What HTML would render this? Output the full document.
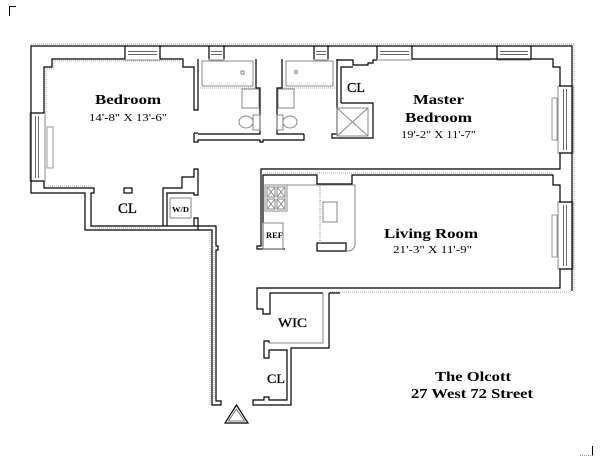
<!DOCTYPE html>
<html><head><meta charset="utf-8"><style>
html,body{margin:0;padding:0;background:#fff;}
svg{display:block;}
text{font-family:"Liberation Serif","DejaVu Serif",serif;fill:#000;}
</style></head><body>
<svg width="600" height="463" viewBox="0 0 600 463" xmlns="http://www.w3.org/2000/svg">
<rect width="600" height="463" fill="#fff"/>

<!-- corner marks -->
<path d="M9.5,16 V6.5 H16" fill="none" stroke="#000" stroke-width="1"/>
<path d="M592.5,446 V455.5" fill="none" stroke="#000" stroke-width="1"/>
<path d="M580,455.5 H592" fill="none" stroke="#999" stroke-width="1" stroke-dasharray="1,1"/>

<!-- gray dotted offset lines -->
<g fill="none" stroke="#aaa" stroke-width="1" stroke-dasharray="1,1">
  <path d="M31,44 H574 V293"/>
  <path d="M46,112 V69 H54 V61 H180"/>
  <path d="M198,88 H256"/>
  <path d="M282,88 H337"/>
  <path d="M265,173 H553"/>
  <path d="M46,186 H92"/>
  <path d="M93,228 H161"/>
  <path d="M210,232 V405"/>
  <path d="M330,292 H572"/>
  <path d="M214,252 V398"/>
</g>

<!-- windows (gray frames) -->
<g fill="#fff" stroke="#888" stroke-width="1">
  <rect x="125" y="46" width="35" height="14"/>
  <rect x="209" y="46" width="15" height="14"/>
  <rect x="314" y="46" width="14" height="14"/>
  <rect x="377" y="46" width="35" height="14"/>
  <rect x="497" y="46" width="34" height="14"/>
  <rect x="558" y="86" width="15" height="67"/>
  <rect x="558" y="202" width="15" height="67"/>
  <rect x="30" y="113" width="15" height="68"/>
</g>
<g fill="none" stroke="#666" stroke-width="1">
  <path d="M128,51.5 H157 M128,54.5 H157"/>
  <path d="M211,51.5 H222 M211,54.5 H222"/>
  <path d="M316,51.5 H326 M316,54.5 H326"/>
  <path d="M380,51.5 H409 M380,54.5 H409"/>
  <path d="M500,51.5 H528 M500,54.5 H528"/>
  <path d="M563.5,89 V150 M566.5,89 V150"/>
  <path d="M563.5,205 V266 M566.5,205 V266"/>
  <path d="M35.5,116 V178 M38.5,116 V178"/>
</g>

<!-- radiators -->
<g fill="none" stroke="#999" stroke-width="1">
  <rect x="47" y="127" width="6" height="41"/>
  <rect x="552" y="98" width="5" height="42"/>
  <rect x="552" y="215" width="5" height="42"/>
</g>

<!-- walls -->
<g fill="none" stroke="#000" stroke-width="1.2" stroke-linejoin="miter">
  <path d="M198,226 H216 V246 H218 V250 H216 V401 H221 V405 H212 V230 H85 V193 H31 V46 H572 V291"/>
  <path d="M44,113 V67 H52 V59 H125"/>
  <path d="M160,59 H183 V67 H194 V110 H198 V59"/>
  <path d="M44,181 V188 H94 V193 H91 V226 H198"/>
  <path d="M163,226 V188 H182 V177 H194 V169 H198 V195 H194 V193 H167 V226"/>
  <path d="M194,226 V218 H198 V230"/>
  <rect x="124" y="188" width="8" height="5"/>
  <path d="M125,46 V59 M160,46 V59 M209,46 V59 M224,46 V59 M314,46 V59 M328,46 V59 M377,46 V59 M412,46 V59 M497,46 V59 M531,46 V59"/>
  <path d="M559,86 H572 M559,153 H572 M559,202 H572 M559,269 H572"/>
  <path d="M31,113 H44 M31,181 H44"/>
  <path d="M198,134 H260 V88 H256 V59"/>
  <path d="M304,134 H277 V88 H282 V59"/>
  <path d="M194,133 V142 H198 V140 H260 V142 H263 V140 H304 V134"/>
  <path d="M194,133 H198"/>
  <path d="M337,59 V108"/>
  <path d="M337,60 H353 V65 H368 V63 H373 V60 H377"/>
  <path d="M341,103 V67 H353"/>
  <path d="M341,103 H373 V138 H332 V134 H337 V108"/>
  <path d="M412,59 H553 V67 H560 V86"/>
  <path d="M560,153 V169 H261 V246 H257 V249 H285"/>
  <path d="M263,246 V175 H317 V184 H352 V175 H553 V185 H560 V202"/>
  <path d="M560,269 V288 H257 V309 H263 V314 H270 V293 H323"/>
  <path d="M329,293 V348 H291 V405 H253 V400 H264 V397 H269 V400 H287 V350 H269 V358 H264 V341 H269 V343"/>
  <path d="M329,293 H340"/>
  <rect x="317" y="243" width="29" height="8"/>
</g>

<!-- gray fixtures -->
<g fill="none" stroke="#888" stroke-width="1">
  <rect x="202" y="61" width="51" height="25"/>
  <rect x="241" y="71" width="3" height="3"/>
  <rect x="242" y="89" width="17" height="19"/>
  <ellipse cx="246" cy="122" rx="7" ry="6"/>
  <rect x="253" y="115" width="7" height="15"/>
  <rect x="286" y="61" width="47" height="25"/>
  <circle cx="296" cy="72" r="1.5"/>
  <rect x="278" y="89" width="16" height="19"/>
  <rect x="277" y="115" width="6" height="15"/>
  <ellipse cx="290" cy="122" rx="7" ry="6"/>
  <rect x="337" y="108" width="31" height="28"/>
  <path d="M337,108 L368,136 M368,108 L337,136"/>
  <rect x="170" y="198" width="21" height="20"/>
  <rect x="265" y="185" width="22" height="26"/>
  <rect x="267" y="187" width="8" height="10"/>
  <rect x="277" y="187" width="8" height="10"/>
  <rect x="267" y="199" width="8" height="10"/>
  <rect x="277" y="199" width="8" height="10"/>
  <path d="M267,187 L275,197 M275,187 L267,197 M277,187 L285,197 M285,187 L277,197 M267,199 L275,209 M275,199 L267,209 M277,199 L285,209 M285,199 L277,209"/>
  <rect x="263" y="223" width="20" height="26"/>
  <path d="M287,185 H355 V243 Q355,251 347,251"/>
  <path d="M320,186 V243" stroke-dasharray="1,1"/>
  <rect x="323" y="202" width="14" height="20"/>
  <path d="M269,343 H323 V293"/>
</g>

<!-- entrance triangle -->
<g fill="none" stroke="#000" stroke-width="1.2">
  <path d="M236.5,405 L225,423 H248 Z"/>
  <path d="M236.5,409 L228.5,421 H244.5 Z" stroke="#555" stroke-width="0.8"/>
</g>

<!-- labels -->
<g>
  <text x="95" y="104" font-size="13.5" font-weight="bold" textLength="66" lengthAdjust="spacingAndGlyphs">Bedroom</text>
  <text x="89" y="121" font-size="11" textLength="78" lengthAdjust="spacingAndGlyphs">14'-8" X 13'-6"</text>
  <text x="118" y="213" font-size="15" stroke="#000" stroke-width="0.3" textLength="19" lengthAdjust="spacingAndGlyphs">CL</text>
  <text x="172" y="212" font-size="7.5" font-weight="bold" textLength="17" lengthAdjust="spacingAndGlyphs">W/D</text>
  <text x="347" y="92" font-size="14" stroke="#000" stroke-width="0.3" textLength="18" lengthAdjust="spacingAndGlyphs">CL</text>
  <text x="413" y="104" font-size="13.5" font-weight="bold" textLength="51" lengthAdjust="spacingAndGlyphs">Master</text>
  <text x="405" y="122" font-size="13.5" font-weight="bold" textLength="67" lengthAdjust="spacingAndGlyphs">Bedroom</text>
  <text x="401" y="138" font-size="10.5" textLength="75" lengthAdjust="spacingAndGlyphs">19'-2" X 11'-7"</text>
  <text x="384" y="238" font-size="13.5" font-weight="bold" textLength="94" lengthAdjust="spacingAndGlyphs">Living Room</text>
  <text x="393" y="253" font-size="10.5" textLength="79" lengthAdjust="spacingAndGlyphs">21'-3" X 11'-9"</text>
  <text x="266" y="238" font-size="8" font-weight="bold" textLength="17" lengthAdjust="spacingAndGlyphs">REF</text>
  <text x="278" y="327" font-size="13" stroke="#000" stroke-width="0.3" textLength="29" lengthAdjust="spacingAndGlyphs">WIC</text>
  <text x="267" y="383" font-size="13" stroke="#000" stroke-width="0.3" textLength="18" lengthAdjust="spacingAndGlyphs">CL</text>
  <text x="435" y="381" font-size="13.5" font-weight="bold" textLength="76" lengthAdjust="spacingAndGlyphs">The Olcott</text>
  <text x="411" y="398" font-size="13.5" font-weight="bold" textLength="122" lengthAdjust="spacingAndGlyphs">27 West 72 Street</text>
</g>
</svg>
</body></html>
